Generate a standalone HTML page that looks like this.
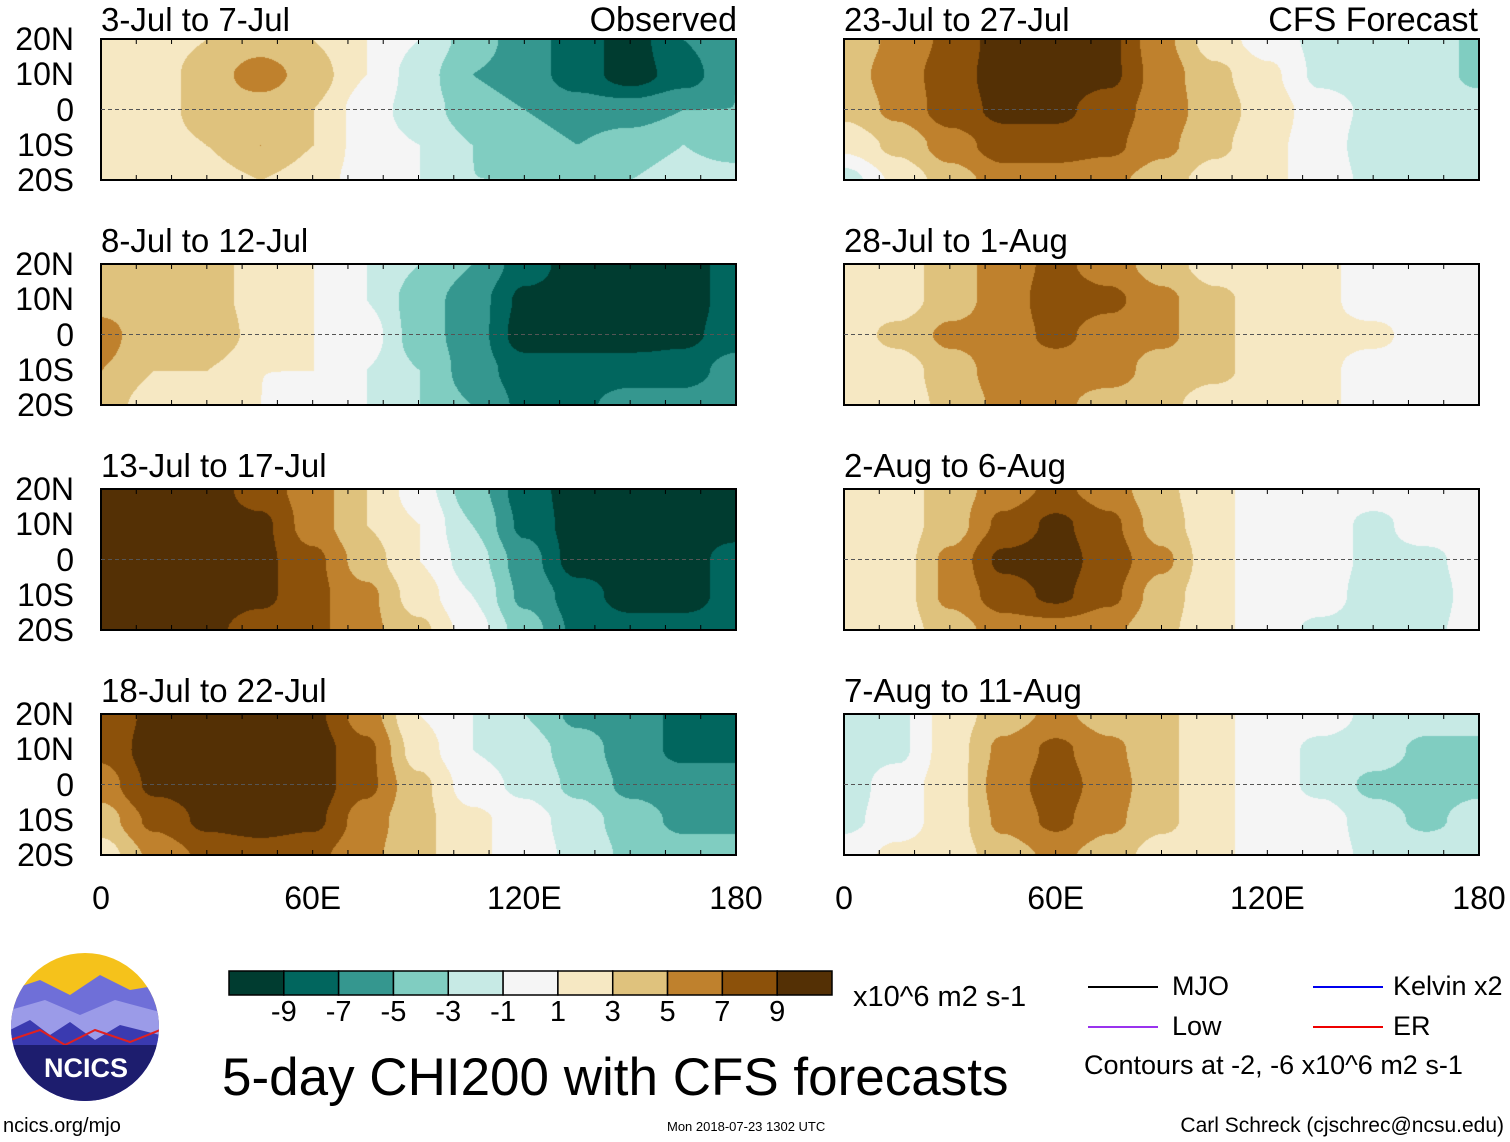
<!DOCTYPE html>
<html><head><meta charset="utf-8">
<style>
body{margin:0;background:#fff;width:1510px;height:1142px;overflow:hidden;position:relative;font-family:"Liberation Sans",sans-serif;color:#000}
.t{position:absolute;white-space:nowrap;line-height:1}
canvas{position:absolute}
.frame{position:absolute;border:2px solid #000;box-sizing:border-box}
</style></head><body>
<div id="root"></div>
<svg id="overlay" width="1510" height="1142" style="position:absolute;left:0;top:0"></svg>
<script>
const lons=[0,15,30,45,60,75,90,105,120,135,150,165,180];
const lats=[20,10,0,-10,-20];
const levels=[-9,-7,-5,-3,-1,1,3,5,7,9];
const colors=["#003c30","#01665e","#35978f","#80cdc1","#c7eae5","#f5f5f5","#f6e8c3","#dfc27d","#bf812d","#8c510a","#543005"];
const titles=["3-Jul to 7-Jul","8-Jul to 12-Jul","13-Jul to 17-Jul","18-Jul to 22-Jul","23-Jul to 27-Jul","28-Jul to 1-Aug","2-Aug to 6-Aug","7-Aug to 11-Aug"];
const p1=[[2,2,3,4,3,1,-1,-4,-6,-8,-10,-7,-5],[1,2,4,6,4,1,-2,-5,-6,-8,-10,-8,-5],[2,2,4,4,3,0,-2,-4,-5,-6,-6,-5,-5],[1,2,3,5,3,0,-1,-3,-4,-5,-4,-3,-4],[1,1,2,3,2,0,-1,-3,-3,-4,-3,-2,-2]];
const p2=[[3,3,4,2,1,-1,-3,-5,-8,-10,-10,-10,-8],[4,3,4,2,1,-1,-4,-6,-9.5,-10,-10,-10,-8],[6,3,5,2,1,0,-4,-6,-10,-10,-10,-9.5,-8],[5,3,3,1,1,-1,-3,-6,-8,-8,-8,-8,-6],[4,2,2,1,0,-1,-3,-5,-7.5,-7.5,-6,-6,-5]];
const p3=[[10,10,10,8,6,3,0,-4,-8,-10,-10,-10,-10],[10,10,10,9.5,6,3,1,-3,-7.5,-10,-10,-10,-10],[10,10,10,9.5,7.5,4,1,-2,-6,-10,-10,-10,-8],[10,10,10,9.5,7.5,5.5,2,-1,-5.5,-8,-10,-10,-8],[10,10,9.5,8,7.5,5.5,3.5,0,-4,-7.5,-8,-8,-8]];
const p4=[[7.5,9.5,10,10,9.5,6,1,-1,-3,-5.5,-6,-7.5,-7.5],[7.5,10,10,10,10,7.5,2,-1,-2,-4,-6,-7.5,-7.5],[6,9.5,10,10,10,7.5,3.5,0,-1.5,-3.5,-5.5,-6,-6],[4,7.5,9.5,10,9.5,6,3.5,1.5,0,-2,-4,-5.5,-5.5],[2,5.5,7.5,8,7.5,5.5,3.5,1.5,0,-1.5,-3.5,-4,-4]];
const p5=[[3.5,5.5,7.5,10,10,9.5,5.5,2,0,-1.5,-1.5,-2,-3.5],[4,6,8,10,10,9.5,6,3.5,1.5,-1.5,-2,-2,-3.5],[3.5,5.5,8,9.5,9.5,8,6,4,2,0,-1.5,-2,-2],[1.5,3.5,6,8,8,7.5,5.5,3.5,1.5,0,-2,-2,-1.5],[-2,1.5,4,6,6,5.5,4,2,1.5,0,-1.5,-1.5,-1.5]];
const p6=[[1.5,2,4,6,7.5,6,4,2,2,1.5,0,0,0],[2,2,4,6,8,7.5,5.5,3.5,2,1.5,0,0,0],[2,3.5,5.5,6,7.5,6,5.5,3.5,2,1.5,1.5,0,0],[1.5,2,4,6,6,6,4,3.5,2,1.5,0,0,0],[1.5,2,3.5,5.5,5.5,4,3.5,2,1.5,1.5,0,0,0]];
const p7=[[1.5,2,4,6,7.5,6,3.5,1.5,0,0,0,0,0],[1.5,2,4,7.5,9.5,7.5,4,1.5,0,0,-1.5,0,0],[2,2,5.5,9.5,10,8,5.5,1.5,0,0,-1.5,-1.5,0],[1.5,2,5.5,8,9.5,7.5,4,1.5,0,0,-2,-2,0],[1.5,2,4,6,6,5.5,3.5,1.5,0,-1.5,-2,-1.5,0]];
const p8=[[-2,-1.5,2,4,5.5,4,3.5,1.5,0,0,-1.5,-2,-2],[-2,-1.5,2,5.5,7.5,5.5,3.5,1.5,0,-1.5,-2,-3.5,-3.5],[-2,0,2,6,8,6,3.5,1.5,0,-1.5,-3.5,-4,-3.5],[-1.5,0,2,5.5,7.5,5.5,3.5,1.5,0,0,-2,-3.5,-2],[0,1.5,2,4,5.5,4,2,1.5,0,0,-1.5,-1.5,-1.5]];
const panels=[p1,p2,p3,p4,p5,p6,p7,p8];
const latLabels=["20N","10N","0","10S","20S"];
const lonLabels=["0","60E","120E","180"];
const cbLabels=["-9","-7","-5","-3","-1","1","3","5","7","9"];

const root=document.getElementById('root');
const W=635,H=141;
const colX=[101,844], rowY=[39,264,489,714];
function xScale(px,lon){return px+lon/180*W;}
function yScale(py,lat){return py+(20-lat)/40*H;}
function colorOf(v){v+=0.0013;let i=0;while(i<levels.length&&v>levels[i])i++;return colors[i];}
function sample(g,lon,lat){
  let fx=lon/15, fy=(20-lat)/10;
  let i=Math.min(Math.floor(fx),11), j=Math.min(Math.floor(fy),3);
  let tx=fx-i, ty=fy-j;
  tx=tx*tx*(3-2*tx); ty=ty*ty*(3-2*ty);
  return g[j][i]*(1-tx)*(1-ty)+g[j][i+1]*tx*(1-ty)+g[j+1][i]*(1-tx)*ty+g[j+1][i+1]*tx*ty;
}
function txt(s,x,y,size,name,anchor){
  const d=document.createElement('div');d.className='t';d.textContent=s;
  d.style.fontSize=size+'px';d.style.top=y+'px';
  if(anchor==='right'){d.style.right=(1510-x)+'px';}else if(anchor==='center'){d.style.left=x+'px';d.style.transform='translateX(-50%)';}else d.style.left=x+'px';
  
  
  root.appendChild(d);return d;
}
const svg=document.getElementById('overlay');
function sv(tag,attrs,name){const e=document.createElementNS('http://www.w3.org/2000/svg',tag);for(const k in attrs)e.setAttribute(k,attrs[k]);
  
  
  svg.appendChild(e);return e;}

panels.forEach((g,k)=>{
  const px=colX[k<4?0:1], py=rowY[k%4];
  const c=document.createElement('canvas');c.width=W;c.height=H;c.style.left=px+'px';c.style.top=py+'px';
  
  
  const ctx=c.getContext('2d');
  for(let y=0;y<H;y+=1)for(let x=0;x<W;x+=1){
    const lon=x/W*180, lat=20-y/H*40;
    ctx.fillStyle=colorOf(sample(g,lon,lat));ctx.fillRect(x,y,1,1);
  }
  root.appendChild(c);
  const f=document.createElement('div');f.className='frame';f.style.left=(px-1)+'px';f.style.top=(py-1)+'px';f.style.width=(W+2)+'px';f.style.height=(H+2)+'px';
  
  
  root.appendChild(f);
  sv('line',{x1:px,x2:px+W,y1:yScale(py,0),y2:yScale(py,0),stroke:'#555','stroke-dasharray':'4 3','stroke-width':1},'equator-line');
  for(let lon=0;lon<=180;lon+=10){
    sv('line',{x1:xScale(px,lon),x2:xScale(px,lon),y1:py,y2:py+5,stroke:'#000','stroke-width':1},'tick');
    sv('line',{x1:xScale(px,lon),x2:xScale(px,lon),y1:py+H-5,y2:py+H,stroke:'#000','stroke-width':1},'tick');
  }
  const tY = (k===0||k===4)? py-37 : (k%4===0?py-37:py-37);
  txt(titles[k],px,k%4===0?py-36:py-40,33,'panel-title-'+(k+1));
  if(k<4){lats.forEach((la,i)=>txt(latLabels[i],74,yScale(py,la)-16,32,'lat-label','right'));}
});
txt('Observed',737,3,34,'observed-label','right');
txt('CFS Forecast',1478,3,34,'cfs-forecast-label','right');
[0,1].forEach(c=>{[0,60,120,180].forEach((lo,i)=>txt(lonLabels[i],xScale(colX[c],lo),882,32,'lon-label','center'));});

const cbX=229,cbY=971,cbW=603,cbH=24,bw=cbW/11;
colors.forEach((col,i)=>sv('rect',{x:cbX+i*bw,y:cbY,width:bw,height:cbH,fill:col,stroke:'#000','stroke-width':1.5},'colorbar-box'));
cbLabels.forEach((l,i)=>txt(l,cbX+(i+1)*bw,998,29,'colorbar-label','center'));
txt('x10^6 m2 s-1',853,983,29,'colorbar-units');
txt('5-day CHI200 with CFS forecasts',222,1051,53,'chart-title');
[['MJO','#000',1088,987,1172],['Low','#9933ee',1088,1027,1172],['Kelvin x2','#0000ee',1313,987,1393],['ER','#ee0000',1313,1027,1393]].forEach(a=>{
  sv('line',{x1:a[2],x2:a[2]+70,y1:a[3],y2:a[3],stroke:a[1],'stroke-width':2},'legend-line-'+a[0].toLowerCase().replace(/ /g,'-'));
  txt(a[0],a[4],a[3]-14,27,'legend-label');
});
txt('Contours at -2, -6 x10^6 m2 s-1',1084,1052,27,'contour-note');
txt('ncics.org/mjo',3,1116,20,'ncics-url');
txt('Mon 2018-07-23 1302 UTC',667,1120,13,'timestamp');
txt('Carl Schreck (cjschrec@ncsu.edu)',1504,1115,21,'author-credit','right');
const defs=sv('defs',{},'defs');
defs.innerHTML='<clipPath id="lc"><circle cx="85" cy="1027" r="74"/></clipPath>';
const g=sv('g',{'clip-path':'url(#lc)'},'ncics-logo');
g.innerHTML='<rect x="0" y="950" width="170" height="160" fill="#f5c21b"/><path d="M10 990 L40 980 L70 995 L100 975 L130 990 L160 985 L160 1110 L10 1110Z" fill="#6f6fd8"/><path d="M10 1010 L45 1000 L80 1015 L115 1000 L160 1012 L160 1110 L10 1110Z" fill="#9b9be8"/><path d="M10 1030 L30 1020 L50 1035 L70 1022 L95 1040 L120 1025 L160 1035 L160 1110 L10 1110Z" fill="#3a3ab0"/><path d="M10 1040 L40 1030 L65 1045 L95 1030 L130 1042 L160 1030" stroke="#e02020" stroke-width="2" fill="none"/><rect x="0" y="1045" width="170" height="70" fill="#1d1d6e"/>';
sv('text',{x:86,y:1077,'text-anchor':'middle','font-family':'Liberation Sans','font-weight':'bold','font-size':27,fill:'#fff'},'logo-text').textContent='NCICS';
</script>
</body></html>
